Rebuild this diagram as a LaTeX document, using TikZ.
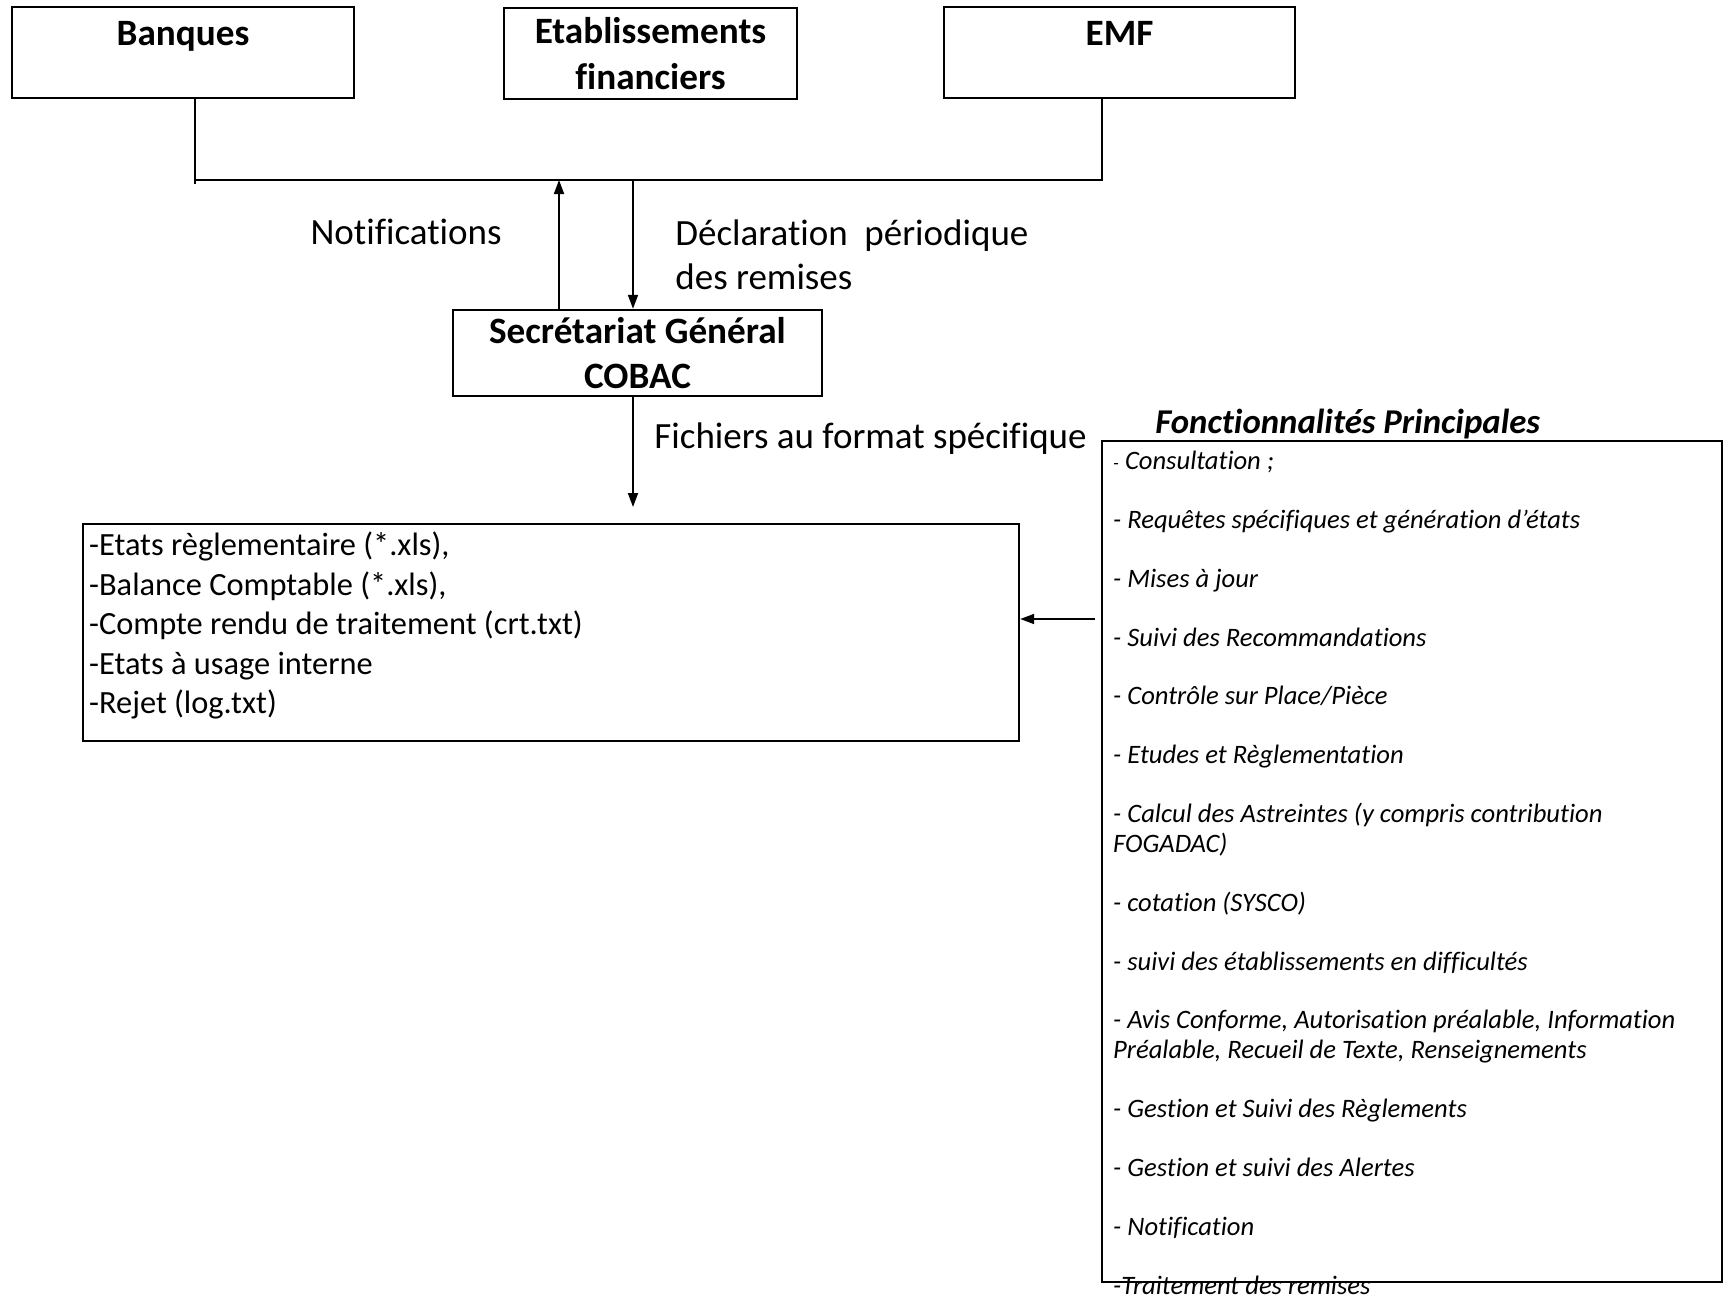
\documentclass[tikz,border=0pt]{standalone}
\usepackage{fontspec}
\setmainfont{Carlito}[Ligatures={NoCommon}]
\usetikzlibrary{arrows.meta,positioning}

\tikzset{
  entite/.style={draw, line width=1.2pt, minimum height=45.5pt, align=center,
    font=\fontsize{18.6}{22.8}\selectfont\bfseries},
  cadre/.style={draw, line width=1.2pt},
  etiquette/.style={inner sep=0pt, align=left, font=\fontsize{18.5}{22}\selectfont},
  liste/.style={inner sep=0pt, align=left},
  lien/.style={line width=0.9pt},
}

\begin{document}
\begin{tikzpicture}[x=0.5pt, y=-0.5pt, >={Triangle[width=5pt,length=7pt]}]
  \useasboundingbox (0,0) rectangle (1729,1296);

  % etablissements assujettis
  \node[entite, minimum width=171pt, text depth=19.5pt] (banques) at (183,52.5) {Banques};
  \node[entite, minimum width=146.5pt] (etab) at (650.5,53.5) {Etablissements\\financiers};
  \node[entite, minimum width=175.5pt, text depth=19.5pt] (emf) at (1119.5,52.5) {EMF};
  \node[entite, minimum width=184.5pt, minimum height=43pt] (sg) at (637.5,353) {Secrétariat Général\\COBAC};

  \coordinate (busG)   at (195,180);
  \coordinate (busD)   at (1102,180);
  \coordinate (notifH) at (559,180);
  \coordinate (declH)  at (633,180);
  \coordinate (fichB)  at (633,507);
  \coordinate (renvoi) at (1095,619);

  \draw[lien] (banques.south -| busG) -- ([yshift=-2pt]busG);
  \draw[lien] (busG) -- (busD) -- (emf.south -| busD);
  \draw[lien,->] (sg.north -| notifH) -- (notifH);
  \draw[lien,->] (declH) -- (declH |- sg.north);

  \node[etiquette, anchor=east] (notif) at (502,232) {Notifications};
  \node[etiquette, anchor=west] (decl) at (675,255) {Déclaration\ \ périodique\\des remises};

  % fichiers produits
  \draw[lien,->] (sg.south -| fichB) -- (fichB);
  \node[etiquette, anchor=west] (fich) at (654,439) {Fichiers au format spécifique};

  \node[cadre, minimum width=468pt, minimum height=108.5pt] (etats) at (551,632.5) {};
  \node[liste, below right=4.5pt and 3.5pt of etats.north west,
        font=\fontsize{16.2}{19.75}\selectfont] (etatsTxt) {%
    -Etats règlementaire (*.xls),\\
    -Balance Comptable (*.xls),\\
    -Compte rendu de traitement (crt.txt)\\
    -Etats à usage interne\\
    -Rejet (log.txt)};

  % fonctionnalites
  \node[cadre, minimum width=310pt, minimum height=420.5pt] (fonct) at (1412,861.5) {};
  \node[inner sep=0pt, anchor=base west, font=\fontsize{17.4}{20}\selectfont\bfseries\itshape]
        (titre) at (1155,433) {\underline{Fonctionnalités Principales}};
  \node[liste, below right=5.5pt and 6pt of fonct.north west,
        font=\fontsize{13.3}{15}\selectfont\itshape] (items) {%
    {\fontsize{9.5}{15}\selectfont -} Consultation ;\\[14.4pt]
    - Requêtes spécifiques et génération d’états\\[14.4pt]
    - Mises à jour\\[14.4pt]
    - Suivi des Recommandations\\[14.4pt]
    - Contrôle sur Place/Pièce\\[14.4pt]
    - Etudes et Règlementation\\[14.4pt]
    - Calcul des Astreintes (y compris contribution\\
    FOGADAC)\\[14.4pt]
    - cotation (SYSCO)\\[14.4pt]
    - suivi des établissements en difficultés\\[14.4pt]
    - Avis Conforme, Autorisation préalable, Information\\
    Préalable, Recueil de Texte, Renseignements\\[14.4pt]
    - Gestion et Suivi des Règlements\\[14.4pt]
    - Gestion et suivi des Alertes\\[14.4pt]
    - Notification\\[14.4pt]
    -Traitement des remises};
  \draw[lien,->] (renvoi) -- (renvoi -| etats.east);
\end{tikzpicture}
\end{document}
